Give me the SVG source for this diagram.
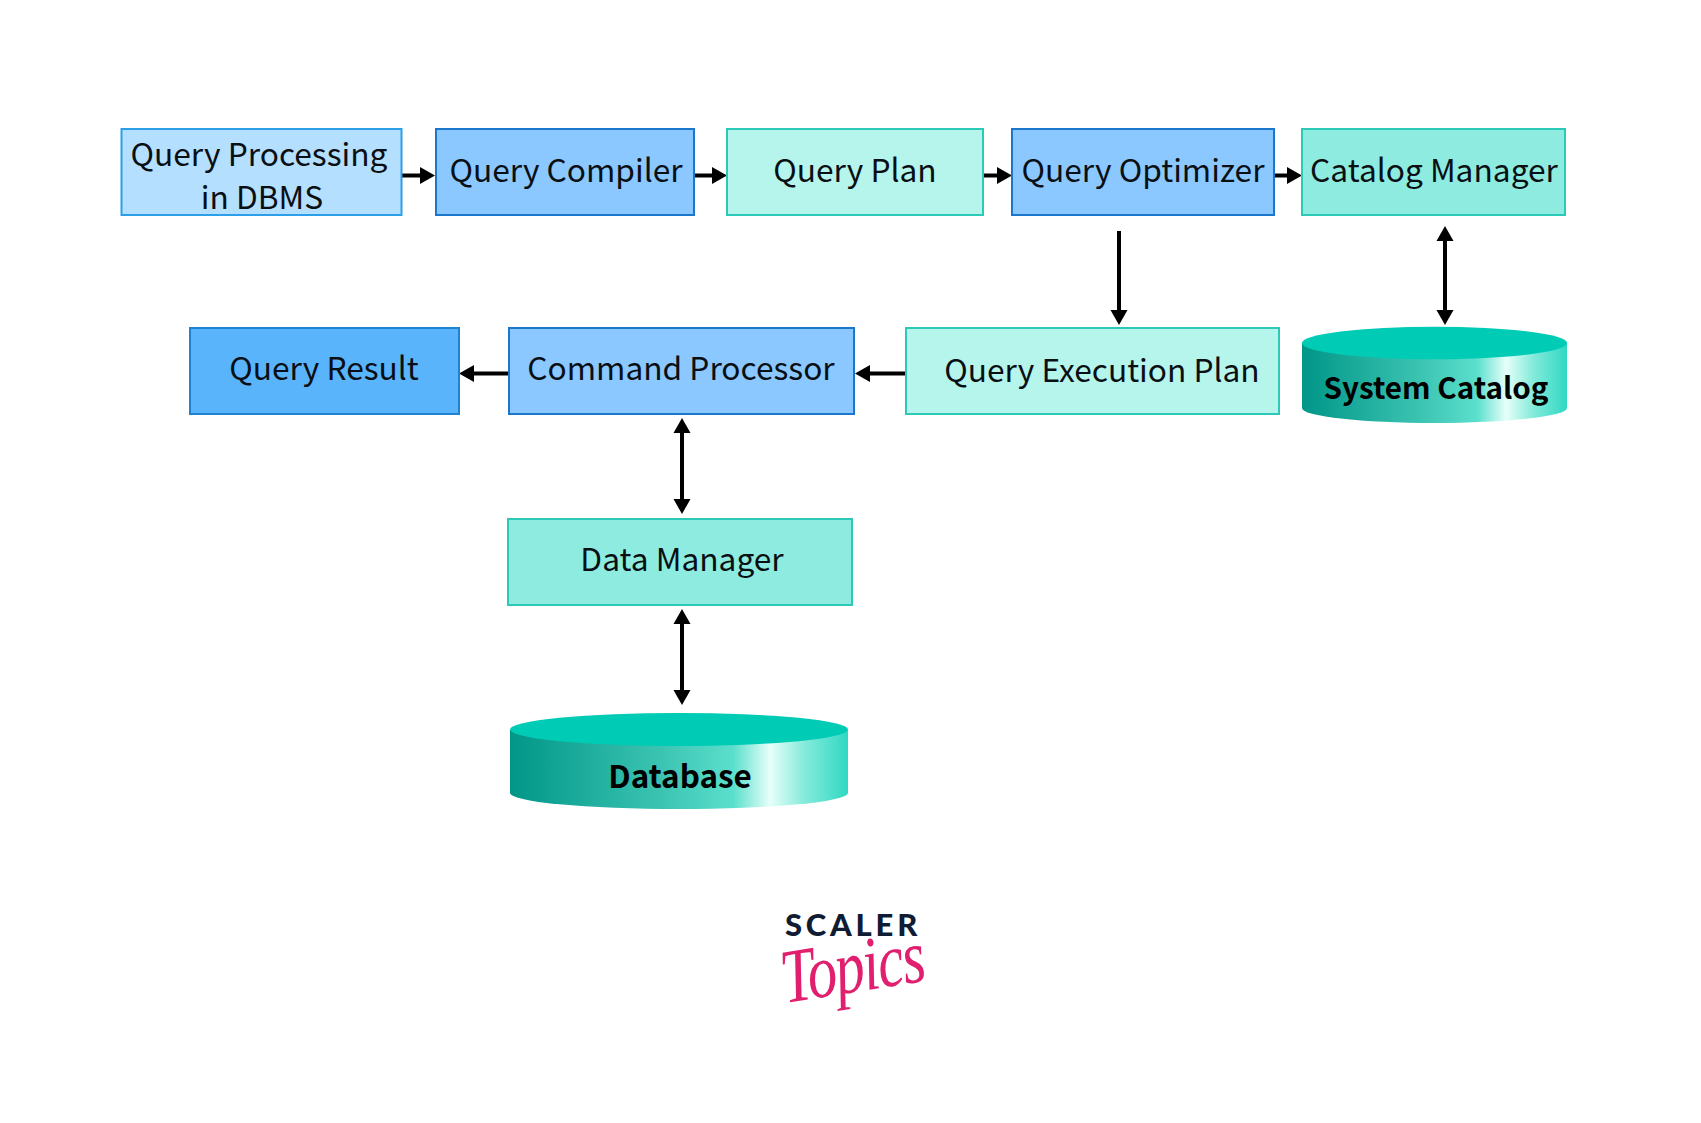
<svg xmlns="http://www.w3.org/2000/svg" width="1701" height="1123" viewBox="0 0 1701 1123">
<style>
text{font-family:"Noto Sans CJK SC","Noto Sans",sans-serif;font-size:31.7px;fill:#0a0f14;text-anchor:middle}
.b{font-weight:700;fill:#000}
rect{stroke-width:2}
.lblue{fill:#b5dffe;stroke:#2d9fe8}
.mblue{fill:#8ac8ff;stroke:#1a77cc}
.dblue{fill:#5ab4fc;stroke:#1e83d0}
.lteal{fill:#b5f5ec;stroke:#2cc9b6}
.mteal{fill:#8decdf;stroke:#2cc9b6}
.top{fill:#00cbb5}
.side{fill:url(#cyl)}
#connectors line{stroke:#000;stroke-width:4;marker-end:url(#ah)}
#connectors line.two{marker-start:url(#ah)}
</style>
<defs>
<linearGradient id="cyl" x1="0" x2="1" y1="0" y2="0">
<stop offset="0" stop-color="#009688"/><stop offset="0.45" stop-color="#3cc4b2"/><stop offset="0.66" stop-color="#5adfcc"/><stop offset="0.77" stop-color="#e6fff9"/><stop offset="0.87" stop-color="#86ebdb"/><stop offset="1" stop-color="#2fd8c3"/>
</linearGradient>
<marker id="ah" markerUnits="userSpaceOnUse" markerWidth="16" markerHeight="18" refX="4" refY="9" orient="auto-start-reverse"><path d="M0 0.5L15 9L0 17.5Z" fill="#000"/></marker>
</defs>
<rect width="1701" height="1123" fill="#fff" stroke="none"/>
<g id="connectors">
<line x1="401" y1="175.500" x2="424" y2="175.500"/>
<line x1="695" y1="175.500" x2="716" y2="175.500"/>
<line x1="984" y1="175.500" x2="1001" y2="175.500"/>
<line x1="1274" y1="175.500" x2="1291" y2="175.500"/>
<line x1="1119" y1="231" x2="1119" y2="314"/>
<line class="two" x1="1445" y1="237" x2="1445" y2="314"/>
<line x1="905" y1="373.500" x2="866" y2="373.500"/>
<line x1="508" y1="373.500" x2="470" y2="373.500"/>
<line class="two" x1="682" y1="429" x2="682" y2="503"/>
<line class="two" x1="682" y1="620" x2="682" y2="694"/>
</g>
<g id="n-processing"><rect class="lblue" x="121.500" y="129" width="280" height="86"/><text x="259" y="165.500">Query Processing</text><text x="262" y="209">in DBMS</text></g>
<g id="n-compiler"><rect class="mblue" x="436" y="129" width="258" height="86"/><text x="566" y="181.500">Query Compiler</text></g>
<g id="n-plan"><rect class="lteal" x="727" y="129" width="256" height="86"/><text x="855" y="181.500">Query Plan</text></g>
<g id="n-optimizer"><rect class="mblue" x="1012" y="129" width="262" height="86"/><text x="1143" y="181.500">Query Optimizer</text></g>
<g id="n-catalog"><rect class="mteal" x="1302" y="129" width="263" height="86"/><text x="1434" y="181.500">Catalog Manager</text></g>
<g id="n-result"><rect class="dblue" x="190" y="328" width="269" height="86"/><text x="324" y="379.500">Query Result</text></g>
<g id="n-command"><rect class="mblue" x="509" y="328" width="345" height="86"/><text x="681" y="379.500">Command Processor</text></g>
<g id="n-exec"><rect class="lteal" x="906" y="328" width="373" height="86"/><text x="1102" y="381.500">Query Execution Plan</text></g>
<g id="n-system"><path class="side" d="M1302 343V408A132.500 15 0 0 0 1567 408V343Z"/><ellipse class="top" cx="1434.500" cy="343" rx="132.500" ry="16.300"/><text class="b" x="1436" y="399" style="font-size:29.6px">System Catalog</text></g>
<g id="n-data"><rect class="mteal" x="508" y="519" width="344" height="86"/><text x="682" y="570.500">Data Manager</text></g>
<g id="n-database"><path class="side" d="M510 729.500V793A169 16 0 0 0 848 793V729.500Z"/><ellipse class="top" cx="679" cy="729.500" rx="169" ry="16.500"/><text class="b" x="680" y="787.500" style="font-size:31.4px">Database</text></g>
<g id="logo">
<text x="853" y="936" style="font-family:Lato,sans-serif;font-weight:900;font-size:31px;letter-spacing:3.8px;fill:#0f1c33">SCALER</text>
<text transform="translate(785 1003) rotate(-9) scale(.76 .98)" style="font-family:'Liberation Serif',serif;font-style:italic;font-size:78px;fill:#e0206f;text-anchor:start;letter-spacing:-2px">Topics</text>
</g>
</svg>
